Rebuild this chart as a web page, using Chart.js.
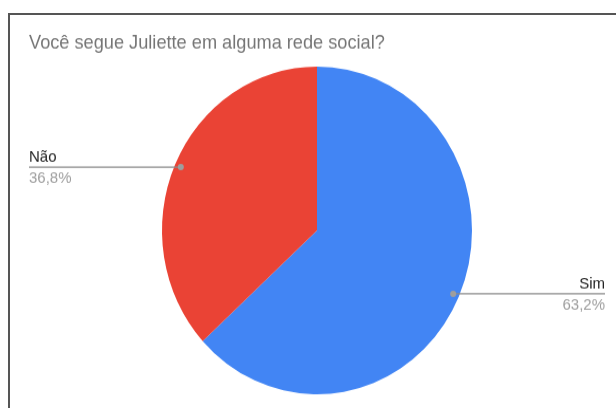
<!DOCTYPE html>
<html>
<head>
<meta charset="utf-8">
<script src="https://cdn.jsdelivr.net/npm/chart.js@4"></script>
<style>
  html, body { margin: 0; padding: 0; background: #fff; overflow: hidden; }
  #frame {
    position: absolute; left: 8px; top: 13px; width: 620px; height: 420px;
    border-top: 2px solid #555; border-left: 2px solid #555;
  }
  #wrap {
    position: absolute; left: 0; top: 0; width: 616px; height: 386px;
    transform: scaleY(1.057); transform-origin: 0 0;
  }
</style>
</head>
<body>
<div id="wrap"><canvas id="chart" width="616" height="386"></canvas></div>
<div id="frame"></div>
<script>
// Data
const title = 'Você segue Juliette em alguma rede social?';
const categories = ['Sim', 'Não'];
const values = [63.2, 36.8];
const colors = ['#4285F4', '#EA4335'];

const FONT = '"Liberation Sans", Arial, sans-serif';

// Title + leader-line labels, Sheets style
const sheetLabels = {
    id: 'sheetLabels',
    afterDraw(chart) {
        const ctx = chart.ctx;
        ctx.save();
        ctx.fillStyle = '#757575';
        ctx.font = '18.2px ' + FONT;
        ctx.textAlign = 'left';
        ctx.textBaseline = 'alphabetic';
        ctx.fillText(title, 29, 46);

        const arcs = chart.getDatasetMeta(0).data;
        arcs.forEach((arc, i) => {
            const p = arc.getProps(['x', 'y', 'startAngle', 'endAngle', 'outerRadius']);
            const mid = (p.startAngle + p.endAngle) / 2;
            const r = p.outerRadius * 0.96;
            const dx = p.x + Math.cos(mid) * r;
            const dy = p.y + Math.sin(mid) * r;
            const right = Math.cos(mid) > 0;
            const edge = right ? 605 : 29;

            ctx.strokeStyle = '#8a8a8a';
            ctx.lineWidth = 1.3;
            ctx.beginPath();
            ctx.moveTo(dx, dy);
            ctx.lineTo(edge, dy);
            ctx.stroke();

            ctx.fillStyle = '#9e9e9e';
            ctx.beginPath();
            ctx.arc(dx, dy, 3, 0, Math.PI * 2);
            ctx.fill();

            ctx.textAlign = right ? 'right' : 'left';
            ctx.font = '15px ' + FONT;
            ctx.fillStyle = '#222';
            ctx.fillText(categories[i], edge, dy - 5);
            ctx.fillStyle = '#9e9e9e';
            ctx.fillText(values[i].toFixed(1).replace('.', ',') + '%', edge, dy + 15);
        });
        ctx.restore();
    }
};

new Chart(document.getElementById('chart').getContext('2d'), {
    type: 'pie',
    data: {
        labels: categories,
        datasets: [{
            data: values,
            backgroundColor: colors,
            borderWidth: 0
        }]
    },
    options: {
        responsive: false,
        animation: false,
        layout: { padding: { top: 63, bottom: 13, left: 162, right: 144 } },
        plugins: {
            legend: { display: false },
            tooltip: { enabled: false }
        }
    },
    plugins: [sheetLabels]
});
</script>
</body>
</html>
